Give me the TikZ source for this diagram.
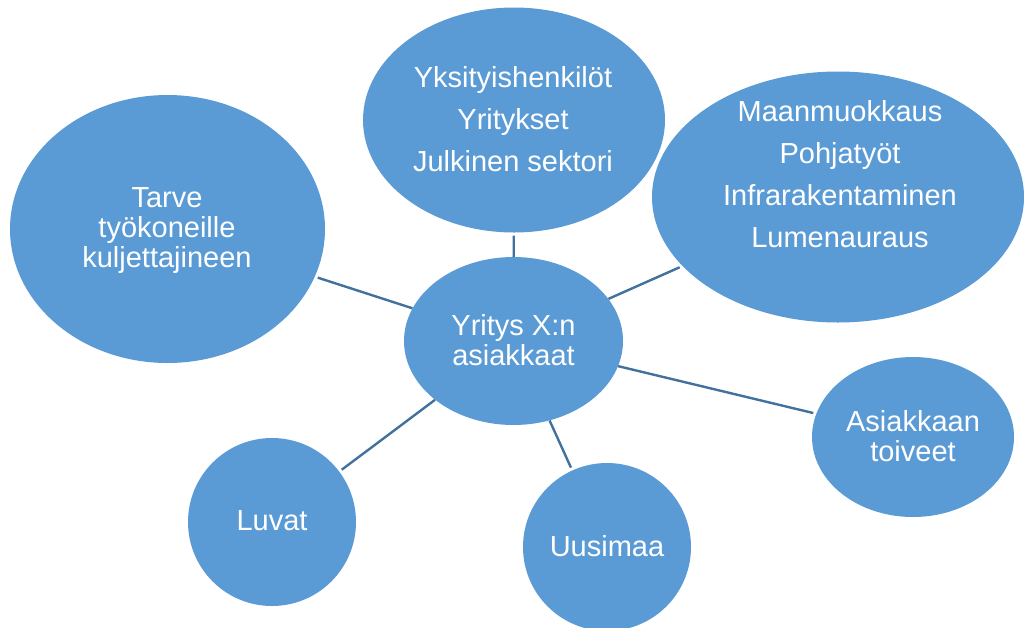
\documentclass[tikz,border=0pt]{standalone}
\usepackage{fontspec}
\setmainfont{Liberation Sans}
\usetikzlibrary{shapes.geometric}
\definecolor{bubblefill}{HTML}{5B9BD5}
\definecolor{spokeline}{HTML}{41719C}
\begin{document}
\begin{tikzpicture}[x=1pt,y=-1pt,
  bubble/.style={ellipse, fill=bubblefill, inner sep=0pt},
  bubbletext/.style={text=white, font=\fontsize{29}{30}\selectfont,
    align=center, anchor=base, inner sep=0pt},
  spoke/.style={draw=spokeline, line width=2.4pt, shorten >=3pt}]
\useasboundingbox (0,0) rectangle (1024,627);

% bubbles
\node[bubble, minimum width=219pt, minimum height=168pt] (hub)    at (513.5,341) {};
\node[bubble, minimum width=302pt, minimum height=225pt] (groups) at (514,120) {};
\node[bubble, minimum width=315pt, minimum height=268pt] (need)   at (167.5,229) {};
\node[bubble, minimum width=372pt, minimum height=251pt] (works)  at (838,197) {};
\node[bubble, minimum width=202pt, minimum height=160pt] (wishes) at (913,437) {};
\node[bubble, minimum width=168pt, minimum height=168pt] (region) at (607,547) {};
\node[bubble, minimum width=168pt, minimum height=168pt] (permits) at (272,522) {};

% texts (anchored at the baseline of their last line)
\node[bubbletext] (hubT)     at (513.5,365.7) {Yritys X:n\\asiakkaat};
\node[bubbletext] (groupsT)  at (513,171.7) {Yksityishenkilöt\\[12pt]Yritykset\\[12pt]Julkinen sektori};
\node[bubbletext] (needT)    at (167,267) {Tarve\\työkoneille\\kuljettajineen};
\node[bubbletext] (worksT)   at (840,247) {Maanmuokkaus\\[12pt]Pohjatyöt\\[12pt]Infrarakentaminen\\[12pt]Lumenauraus};
\node[bubbletext] (wishesT)  at (913,461.7) {Asiakkaan\\toiveet};
\node[bubbletext] (regionT)  at (607,556) {Uusimaa};
\node[bubbletext] (permitsT) at (272,530) {Luvat};

% spokes from the hub
\foreach \target in {groups,need,works,wishes,region,permits}
  \draw[spoke] (hub) -- (\target);
\end{tikzpicture}
\end{document}
